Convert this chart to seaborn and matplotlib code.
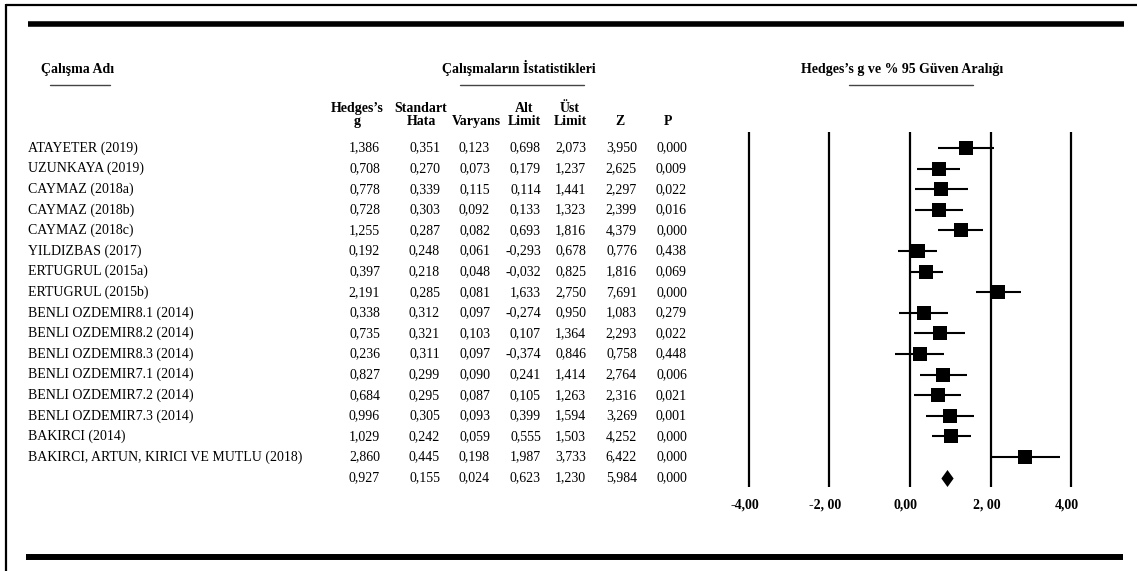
import numpy as np
import pandas as pd
import matplotlib
matplotlib.use("Agg")
import matplotlib.pyplot as plt
from matplotlib.path import Path
import seaborn as sns

# ---- data -------------------------------------------------------------
studies = [
    "ATAYETER (2019)", "UZUNKAYA (2019)", "CAYMAZ (2018a)", "CAYMAZ (2018b)",
    "CAYMAZ (2018c)", "YILDIZBAS (2017)", "ERTUGRUL (2015a)", "ERTUGRUL (2015b)",
    "BENLI OZDEMIR8.1 (2014)", "BENLI OZDEMIR8.2 (2014)", "BENLI OZDEMIR8.3 (2014)",
    "BENLI OZDEMIR7.1 (2014)", "BENLI OZDEMIR7.2 (2014)", "BENLI OZDEMIR7.3 (2014)",
    "BAKIRCI (2014)", "BAKIRCI, ARTUN, KIRICI VE MUTLU (2018)",
]
hedges_g = [1.386, 0.708, 0.778, 0.728, 1.255, 0.192, 0.397, 2.191,
            0.338, 0.735, 0.236, 0.827, 0.684, 0.996, 1.029, 2.860]
std_err = [0.351, 0.270, 0.339, 0.303, 0.287, 0.248, 0.218, 0.285,
           0.312, 0.321, 0.311, 0.299, 0.295, 0.305, 0.242, 0.445]
variance = [0.123, 0.073, 0.115, 0.092, 0.082, 0.061, 0.048, 0.081,
            0.097, 0.103, 0.097, 0.090, 0.087, 0.093, 0.059, 0.198]
lower = [0.698, 0.179, 0.114, 0.133, 0.693, -0.293, -0.032, 1.633,
         -0.274, 0.107, -0.374, 0.241, 0.105, 0.399, 0.555, 1.987]
upper = [2.073, 1.237, 1.441, 1.323, 1.816, 0.678, 0.825, 2.750,
         0.950, 1.364, 0.846, 1.414, 1.263, 1.594, 1.503, 3.733]
z_val = [3.950, 2.625, 2.297, 2.399, 4.379, 0.776, 1.816, 7.691,
         1.083, 2.293, 0.758, 2.764, 2.316, 3.269, 4.252, 6.422]
p_val = [0.000, 0.009, 0.022, 0.016, 0.000, 0.438, 0.069, 0.000,
         0.279, 0.022, 0.448, 0.006, 0.021, 0.001, 0.000, 0.000]

# pooled estimate: g, se, var, lower, upper, z, p
summary = [0.927, 0.155, 0.024, 0.623, 1.230, 5.984, 0.000]

col_headers = ["Hedges's\ng", "Standart\nHata", "\nVaryans", "Alt\nLimit",
               "Üst\nLimit", "\nZ", "\nP"]
axis_ticks = [-4, -2, 0, 2, 4]
axis_tick_labels = ["-4,00", "-2, 00", "0,00", "2, 00", "4,00"]

# ---- layout (figure pixels) ------------------------------------------
W, H = 1137, 571
ROW0, ROW_H = 148, 20.6
NAME_X = 28
COL_RIGHT = [380, 440, 490, 541, 586, 637, 687]
COL_CENTER = [357, 421, 476, 524, 570, 620, 668]
PLOT_LEFT = 700
ZERO_PX, PX_PER_UNIT = 910, 40.3

sns.set_theme(style="white")
plt.rcParams["font.family"] = ["Liberation Serif", "DejaVu Serif"]

fig = plt.figure(figsize=(W / 100, H / 100), dpi=100)
bg = fig.add_axes([0, 0, 1, 1])
bg.set_xlim(0, W)
bg.set_ylim(H, 0)
bg.axis("off")

def fmt(v):
    return f"{v:.3f}".replace(".", ",")

# page frame and heavy rules
bg.plot([6, 6], [4, H], color="black", lw=1.6, solid_capstyle="butt")
bg.plot([6, W], [5, 5], color="black", lw=1.6, solid_capstyle="butt")
bg.plot([28, 1124], [24, 24], color="black", lw=4.0, solid_capstyle="butt")
bg.plot([26, 1123], [557, 557], color="black", lw=4.3, solid_capstyle="butt")

# section titles with short underlines
titles = [("Çalışma Adı", 78, 69, (50, 110)),
          ("Çalışmaların İstatistikleri", 519, 68, (460, 584)),
          ("Hedges’s g ve % 95 Güven Aralığı", 902, 70, (849, 973))]
for txt, cx, cy, (u0, u1) in titles:
    bg.text(cx, cy, txt, ha="center", va="center", fontsize=10,
            fontweight="bold", color="black")
    bg.plot([u0, u1], [85, 85], color="#444444", lw=1.0)

# column headers
for hdr, cx in zip(col_headers, COL_CENTER):
    bg.text(cx, 115, hdr.replace("'", "’"), ha="center", va="center",
            fontsize=10, fontweight="bold", linespacing=1.0,
            multialignment="center", color="black")

# study rows
columns = [hedges_g, std_err, variance, lower, upper, z_val, p_val]
for i, name in enumerate(studies):
    y = ROW0 + ROW_H * i
    bg.text(NAME_X, y, name, ha="left", va="center", fontsize=10, color="black")
    for col, rx in zip(columns, COL_RIGHT):
        bg.text(rx, y, fmt(col[i]), ha="right", va="center", fontsize=10,
                color="black")

# pooled row
y_sum = ROW0 + ROW_H * len(studies)
for v, rx in zip(summary, COL_RIGHT):
    bg.text(rx, y_sum, fmt(v), ha="right", va="center", fontsize=10,
            color="black")

# ---- forest plot ------------------------------------------------------
fp = fig.add_axes([PLOT_LEFT / W, 0, (W - PLOT_LEFT) / W, 1])
fp.set_xlim((PLOT_LEFT - ZERO_PX) / PX_PER_UNIT, (W - ZERO_PX) / PX_PER_UNIT)
fp.set_ylim((H - ROW0) / ROW_H, -ROW0 / ROW_H)
fp.axis("off")
fp.patch.set_alpha(0)

for t in axis_ticks:
    fp.plot([t, t], [-0.78, 16.46], color="black", lw=1.6,
            solid_capstyle="butt", zorder=1)
for t, lab in zip(axis_ticks, axis_tick_labels):
    fp.text(t - 0.1, 17.33, lab, ha="center", va="center", fontsize=10,
            fontweight="bold", color="black")

df = pd.DataFrame({"study": studies, "g": hedges_g, "lo": lower,
                   "hi": upper, "row": np.arange(len(studies))})
fp.hlines(df["row"], df["lo"], df["hi"], color="black", lw=1.5, zorder=2)
sns.scatterplot(data=df, x="g", y="row", marker="s", s=95, color="black",
                edgecolor="black", linewidth=0, ax=fp, zorder=3, legend=False)

diamond = Path([(0, 1), (0.72, 0), (0, -1), (-0.72, 0), (0, 1)],
               [Path.MOVETO, Path.LINETO, Path.LINETO, Path.LINETO,
                Path.CLOSEPOLY])
sum_df = pd.DataFrame({"g": [summary[0]], "row": [len(studies)]})
sns.scatterplot(data=sum_df, x="g", y="row", marker=diamond, s=150,
                color="black", edgecolor="black", linewidth=0, ax=fp,
                zorder=3, legend=False)
fp.set_xlabel("")
fp.set_ylabel("")

fig.savefig("out.png", dpi=100)
